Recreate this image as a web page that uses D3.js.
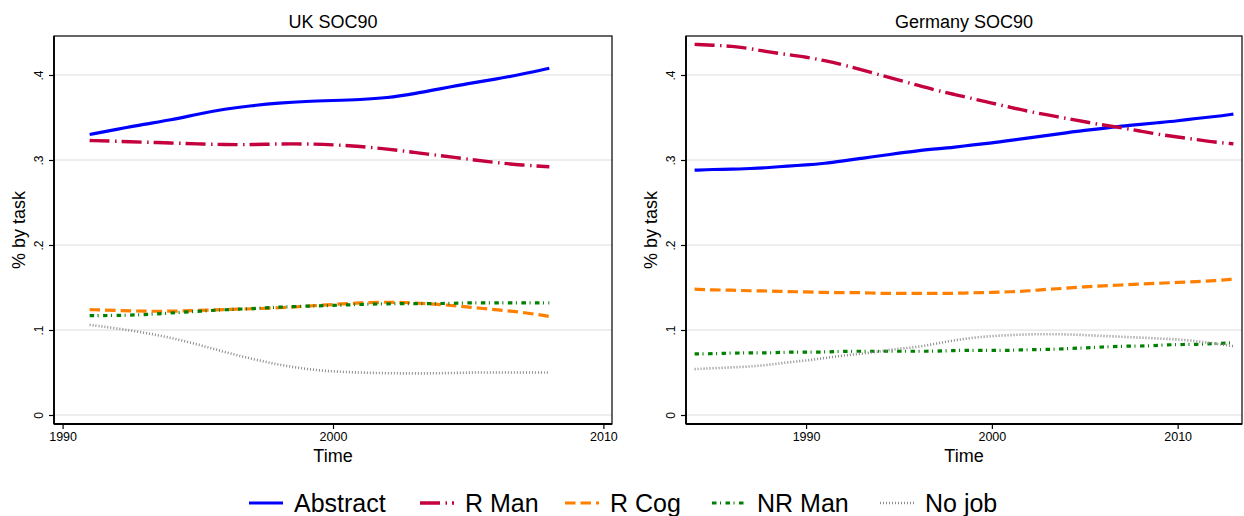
<!DOCTYPE html>
<html><head><meta charset="utf-8">
<script src="https://cdn.jsdelivr.net/npm/d3@7/dist/d3.min.js"></script>
<style>body{margin:0;background:#fff} text{font-family:"Liberation Sans",Arial,Helvetica,sans-serif;fill:#000}</style>
</head><body><svg id="c" width="1244" height="516"></svg>
<script>
// ---- data ----
const seriesNames = ["Abstract", "R Man", "R Cog", "NR Man", "No job"];
const yTicks = [0, 0.1, 0.2, 0.3, 0.4];
const yTickLabels = ["0", ".1", ".2", ".3", ".4"];

const ukTitle = "UK SOC90";
const ukYears = [1991,1992,1993,1994,1995,1996,1997,1998,1999,2000,2001,2002,2003,2004,2005,2006,2007,2008];
const ukXTicks = [1990, 2000, 2010];
const ukAbstract = [.330,.336,.342,.347,.354,.360,.364,.367,.369,.370,.371,.373,.378,.384,.390,.395,.401,.408];
const ukRMan     = [.323,.322,.321,.320,.319,.318,.318,.319,.319,.318,.316,.313,.309,.305,.301,.297,.294,.292];
const ukRCog     = [.124,.123,.122,.122,.123,.124,.125,.126,.128,.130,.132,.133,.132,.130,.127,.124,.121,.116];
const ukNRMan    = [.117,.117,.118,.120,.122,.124,.125,.127,.128,.129,.130,.131,.131,.131,.132,.132,.132,.132];
const ukNoJob    = [.106,.102,.097,.091,.083,.074,.066,.059,.054,.051,.050,.049,.049,.049,.050,.050,.050,.050];

const deTitle = "Germany SOC90";
const deYears = [1984,1985,1986,1987,1988,1989,1990,1991,1992,1993,1994,1995,1996,1997,1998,1999,2000,2001,2002,2003,2004,2005,2006,2007,2008,2009,2010,2011,2012,2013];
const deXTicks = [1990, 2000, 2010];
const deAbstract = [.288,.289,.289,.290,.291,.293,.294,.296,.299,.302,.305,.308,.311,.313,.315,.318,.320,.323,.326,.329,.332,.335,.337,.340,.342,.344,.346,.349,.351,.354];
const deRMan     = [.436,.435,.434,.431,.427,.424,.421,.417,.412,.406,.400,.394,.388,.382,.377,.372,.367,.362,.357,.353,.349,.345,.341,.338,.334,.330,.327,.324,.321,.319];
const deRCog     = [.148,.147,.147,.146,.146,.145,.145,.144,.144,.144,.143,.143,.143,.143,.143,.144,.144,.145,.146,.148,.149,.151,.152,.153,.154,.155,.156,.157,.158,.160];
const deNRMan    = [.072,.072,.073,.073,.073,.074,.074,.074,.075,.075,.075,.075,.075,.075,.076,.076,.076,.076,.077,.077,.078,.079,.080,.081,.081,.082,.083,.083,.084,.085];
const deNoJob    = [.054,.055,.056,.057,.059,.062,.064,.067,.070,.072,.075,.078,.080,.084,.088,.091,.093,.094,.095,.095,.095,.094,.093,.092,.091,.090,.089,.087,.084,.081];

// ---- styles ----
const styles = [
  {color:"#0000ff", width:3.2, dash:null},
  {color:"#c4003d", width:3.4, dash:"20,5.5,1.5,5"},
  {color:"#ff7f00", width:3.2, dash:"10.5,5"},
  {color:"#008000", width:3.2, dash:"4.5,3.5,1,4.5"},
  {color:"#8a8a8a", width:2.6, dash:"1,2"}
];

const svg = d3.select("#c");
const FONT = '"Liberation Sans",Arial,Helvetica,sans-serif';

function panel(opts){
  const {left, right, top, bottom, title, years, xTicks, series} = opts;
  const pad = 8.6;
  const xmin = Math.min(d3.min(xTicks), d3.min(years));
  const xmax = Math.max(d3.max(xTicks), d3.max(years));
  const x = d3.scaleLinear().domain([xmin, xmax]).range([left + pad, right - pad]);
  const y = d3.scaleLinear().domain([0, 0.4]).range([415, 75]);
  const g = svg.append("g");

  // gridlines
  g.selectAll("line.grid").data(yTicks).enter().append("line")
    .attr("x1", left).attr("x2", right)
    .attr("y1", d => y(d)).attr("y2", d => y(d))
    .attr("stroke", "#dcdcdc").attr("stroke-width", 1);

  // lines
  const lineGen = d3.line().x(d => x(d[0])).y(d => y(d[1])).curve(d3.curveBasis);
  series.forEach((vals, i) => {
    const st = styles[i];
    g.append("path").datum(years.map((yr, j) => [yr, vals[j]]))
      .attr("d", lineGen).attr("fill", "none")
      .attr("stroke", st.color).attr("stroke-width", st.width)
      .attr("stroke-dasharray", st.dash)
      .attr("stroke-linecap", "butt").attr("stroke-linejoin", "round");
  });

  // frame
  g.append("rect").attr("x", left).attr("y", top).attr("width", right - left).attr("height", bottom - top)
    .attr("fill", "none").attr("stroke", "#000").attr("stroke-width", 1.2);

  // y axis
  const yAxis = d3.axisLeft(y).tickValues(yTicks).tickSize(5).tickFormat((d, i) => yTickLabels[i]);
  const ya = g.append("g").attr("transform", `translate(${left},0)`).call(yAxis);
  ya.select(".domain").remove();
  ya.append("line").attr("x1", 0).attr("x2", 0).attr("y1", top).attr("y2", bottom).attr("stroke", "#000").attr("stroke-width", 1.8);
  ya.selectAll(".tick line").attr("stroke-width", 1.2);
  ya.selectAll(".tick text")
    .attr("font-family", FONT).attr("font-size", 12).attr("fill", "#000")
    .attr("x", null)
    .attr("text-anchor", "middle")
    .attr("transform", "translate(-11,0) rotate(-90)")
    .attr("dy", "0");

  // x axis
  const xAxis = d3.axisBottom(x).tickValues(xTicks).tickSize(5).tickFormat(d3.format("d"));
  const xa = g.append("g").attr("transform", `translate(0,${bottom})`).call(xAxis);
  xa.select(".domain").remove();
  xa.append("line").attr("x1", left).attr("x2", right).attr("y1", 0).attr("y2", 0).attr("stroke", "#000").attr("stroke-width", 1.8);
  xa.selectAll(".tick line").attr("stroke-width", 1.2);
  xa.selectAll(".tick text").attr("font-family", FONT).attr("font-size", 12.5).attr("fill", "#000").attr("y", 8).attr("dy", "0.71em");

  // titles
  g.append("text").attr("x", (left + right) / 2).attr("y", 28).attr("text-anchor", "middle")
    .attr("font-size", 18).text(title);
  g.append("text").attr("x", (left + right) / 2).attr("y", 462).attr("text-anchor", "middle")
    .attr("font-size", 18).text("Time");
  g.append("text").attr("transform", `translate(${left - 29},${(top + bottom) / 2}) rotate(-90)`)
    .attr("text-anchor", "middle").attr("font-size", 18).text("% by task");
}

panel({left:54, right:612, top:36, bottom:424, title:ukTitle, years:ukYears, xTicks:ukXTicks,
  series:[ukAbstract, ukRMan, ukRCog, ukNRMan, ukNoJob]});
panel({left:686, right:1242, top:36, bottom:424, title:deTitle, years:deYears, xTicks:deXTicks,
  series:[deAbstract, deRMan, deRCog, deNRMan, deNoJob]});

// legend
const legendX = [249, 420, 565, 712, 880];
const lg = svg.append("g");
seriesNames.forEach((name, i) => {
  const st = styles[i];
  lg.append("line").attr("x1", legendX[i]).attr("x2", legendX[i] + 34).attr("y1", 503).attr("y2", 503)
    .attr("stroke", st.color).attr("stroke-width", st.width).attr("stroke-dasharray", st.dash);
  lg.append("text").attr("x", legendX[i] + 45).attr("y", 512).attr("font-size", 25).text(name);
});
</script></body></html>
